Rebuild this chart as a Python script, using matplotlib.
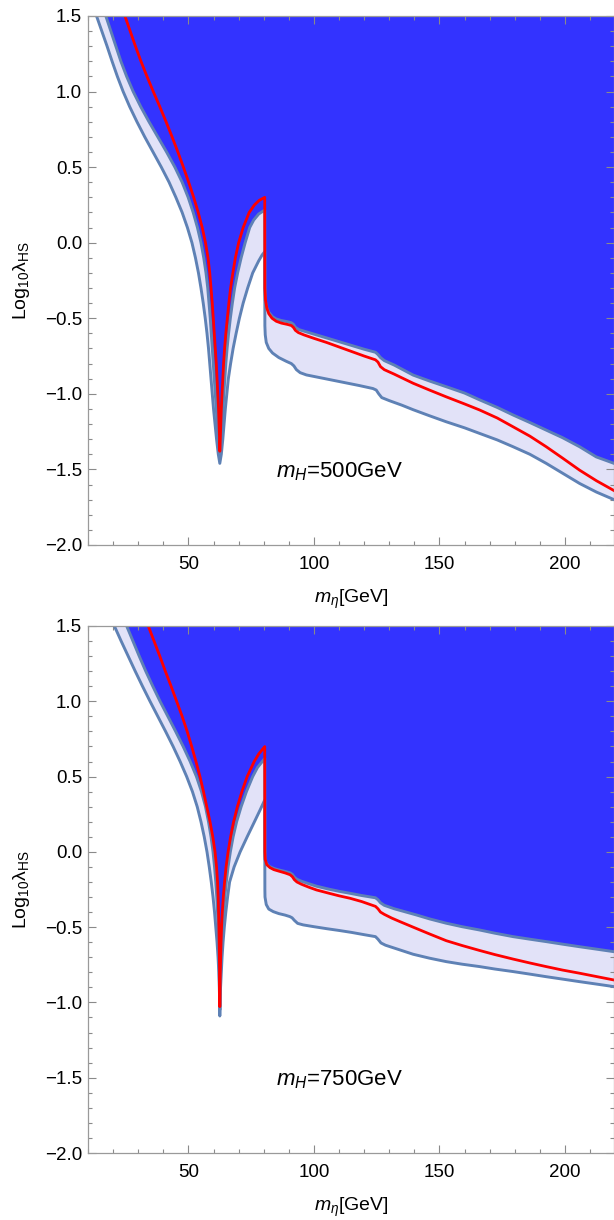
import numpy as np
import matplotlib.pyplot as plt
from matplotlib.ticker import MultipleLocator

plt.rcParams['font.family'] = ['Liberation Sans', 'DejaVu Sans']
plt.rcParams['mathtext.fontset'] = 'custom'
plt.rcParams['mathtext.rm'] = 'Liberation Sans'
plt.rcParams['mathtext.it'] = 'Liberation Sans:italic'

# curves as (m_eta [GeV], log10 lambda_HS)
# ---- m_H = 500 GeV ----
lower500 = [(13.4, 1.5), (15.5, 1.4), (17.6, 1.3), (19.6, 1.2), (21.7, 1.1), (24.0, 1.0), (26.6, 0.9),
            (29.5, 0.8), (32.6, 0.7), (35.9, 0.6), (39.2, 0.5), (42.3, 0.4), (45.0, 0.3), (47.5, 0.2),
            (49.6, 0.1), (51.4, 0.0), (52.8, -0.1), (54.0, -0.2), (55.0, -0.3), (55.9, -0.4), (56.7, -0.5),
            (57.4, -0.6), (58.0, -0.7), (58.5, -0.8), (59.0, -0.9), (59.5, -1.0), (60.0, -1.1),
            (60.6, -1.2), (61.2, -1.3), (61.9, -1.4), (62.5, -1.46),
            (63.1, -1.4), (63.7, -1.3), (64.2, -1.2), (64.7, -1.1), (65.3, -1.0), (65.9, -0.9),
            (66.8, -0.8), (67.8, -0.7), (69.0, -0.6), (70.3, -0.5), (71.8, -0.4), (73.6, -0.3),
            (75.6, -0.2), (78.0, -0.12), (79.4, -0.08), (80.4, -0.06),
            (80.45, -0.55), (80.6, -0.61), (81.0, -0.66), (82.0, -0.70), (83.5, -0.73), (86.0, -0.76),
            (89.0, -0.785), (91.0, -0.80), (92.0, -0.815), (93.0, -0.84), (94.5, -0.86), (97.0, -0.875),
            (100.0, -0.885), (106.0, -0.905), (112.0, -0.925), (118.0, -0.945), (123.5, -0.965),
            (124.8, -0.975), (125.8, -1.0), (127.0, -1.025), (130.0, -1.045), (135.0, -1.075),
            (139.5, -1.105), (146.0, -1.145), (152.7, -1.185), (160.0, -1.225), (166.0, -1.262),
            (173.0, -1.305), (179.3, -1.35), (186.0, -1.40), (192.5, -1.46), (199.0, -1.525),
            (205.8, -1.593), (212.5, -1.65), (219.5, -1.70)]

upper500 = [(17.1, 1.5), (19.1, 1.4), (21.1, 1.3), (23.1, 1.2), (25.4, 1.1), (28.0, 1.0), (31.0, 0.9),
            (34.3, 0.8), (37.8, 0.7), (41.3, 0.6), (44.6, 0.5), (47.5, 0.4), (49.9, 0.3), (51.9, 0.2),
            (53.6, 0.1), (55.0, 0.0), (56.1, -0.1), (57.0, -0.2), (57.7, -0.3), (58.2, -0.4),
            (58.7, -0.5), (59.1, -0.6), (59.5, -0.7), (59.9, -0.8), (60.3, -0.9), (60.7, -1.0),
            (61.1, -1.1), (61.5, -1.2), (61.9, -1.3), (62.5, -1.41),
            (63.0, -1.3), (63.4, -1.2), (63.8, -1.1), (64.1, -1.0), (64.5, -0.9), (64.9, -0.8),
            (65.4, -0.7), (66.0, -0.6), (66.7, -0.5), (67.5, -0.4), (68.4, -0.3), (69.6, -0.2),
            (71.0, -0.1), (72.6, 0.0), (74.4, 0.1), (76.0, 0.15), (78.0, 0.19), (80.4, 0.216),
            (80.45, -0.3), (80.6, -0.38), (81.2, -0.43), (82.0, -0.46), (83.5, -0.49), (85.0, -0.505),
            (87.0, -0.515), (89.5, -0.523), (91.0, -0.53), (91.8, -0.54), (92.6, -0.56), (94.0, -0.575),
            (96.0, -0.585), (100.0, -0.605), (105.0, -0.63), (110.0, -0.655), (115.0, -0.68),
            (120.0, -0.705), (124.5, -0.725), (125.5, -0.74), (126.5, -0.76), (128.0, -0.78),
            (132.0, -0.81), (139.5, -0.876), (146.0, -0.915), (152.7, -0.953), (160.0, -0.995),
            (166.0, -1.04), (173.0, -1.09), (179.3, -1.14), (186.0, -1.19), (192.5, -1.24),
            (199.0, -1.29), (205.8, -1.35), (212.4, -1.417), (219.5, -1.46)]

red500 = [(24.7, 1.5), (26.8, 1.4), (28.9, 1.3), (31.1, 1.2), (33.5, 1.1), (36.0, 1.0), (38.6, 0.9),
          (41.1, 0.8), (43.5, 0.7), (45.8, 0.6), (48.0, 0.5), (50.1, 0.4), (52.1, 0.3), (53.9, 0.2),
          (55.5, 0.1), (56.8, 0.0), (57.8, -0.1), (58.5, -0.2), (59.0, -0.3), (59.5, -0.4),
          (59.9, -0.5), (60.3, -0.6), (60.7, -0.7), (61.1, -0.8), (61.4, -0.9), (61.7, -1.0),
          (62.0, -1.1), (62.2, -1.2), (62.4, -1.3), (62.5, -1.38),
          (62.7, -1.3), (62.9, -1.2), (63.1, -1.1), (63.4, -1.0), (63.7, -0.9), (64.0, -0.8),
          (64.4, -0.7), (64.9, -0.6), (65.5, -0.5), (66.1, -0.4), (66.8, -0.3), (67.7, -0.2),
          (68.7, -0.1), (70.0, 0.0), (71.8, 0.1), (74.2, 0.2), (76.3, 0.25), (78.2, 0.28), (80.4, 0.30),
          (80.45, -0.3), (80.7, -0.38), (81.2, -0.43), (82.0, -0.47), (83.3, -0.50), (85.0, -0.52),
          (87.0, -0.532), (89.5, -0.541), (91.0, -0.548), (91.8, -0.56), (92.6, -0.58), (93.8, -0.595),
          (96.0, -0.61), (100.0, -0.633), (105.0, -0.66), (110.0, -0.69), (115.0, -0.72),
          (120.0, -0.75), (124.5, -0.775), (125.5, -0.79), (126.5, -0.82), (128.0, -0.84),
          (132.0, -0.87), (139.5, -0.93), (146.0, -0.975), (152.7, -1.02), (160.0, -1.067),
          (166.0, -1.107), (173.0, -1.16), (179.3, -1.218), (186.0, -1.28), (192.5, -1.35),
          (199.0, -1.425), (205.8, -1.505), (212.5, -1.575), (219.5, -1.64)]

# ---- m_H = 750 GeV ----
lower750 = [(20.5, 1.5), (23.2, 1.4), (26.0, 1.3), (28.8, 1.2), (31.7, 1.1), (34.7, 1.0), (37.8, 0.9),
            (40.9, 0.8), (43.9, 0.7), (46.7, 0.6), (49.3, 0.5), (51.6, 0.4), (53.5, 0.3), (55.0, 0.2),
            (56.3, 0.1), (57.4, 0.0), (58.3, -0.1), (59.1, -0.2), (59.8, -0.3), (60.4, -0.4),
            (60.9, -0.5), (61.4, -0.6), (61.8, -0.7), (62.1, -0.8), (62.3, -0.9), (62.45, -1.0),
            (62.5, -1.09),
            (62.6, -1.0), (62.8, -0.9), (63.1, -0.8), (63.4, -0.7), (63.8, -0.6), (64.3, -0.5),
            (64.9, -0.4), (65.6, -0.3), (66.4, -0.2), (68.2, -0.1), (70.6, 0.0), (73.4, 0.1),
            (76.3, 0.2), (78.6, 0.28), (80.4, 0.345),
            (80.45, -0.25), (80.5, -0.3), (81.0, -0.35), (82.0, -0.38), (83.8, -0.397), (86.0, -0.41),
            (88.5, -0.42), (90.4, -0.43), (91.3, -0.438), (92.2, -0.455), (93.5, -0.475), (95.7, -0.485),
            (100.0, -0.497), (105.0, -0.51), (110.0, -0.522), (115.0, -0.535), (120.0, -0.55),
            (124.5, -0.563), (125.5, -0.58), (126.7, -0.605), (128.5, -0.62), (134.2, -0.651),
            (139.5, -0.68), (146.0, -0.706), (152.7, -0.729), (159.0, -0.746), (166.0, -0.762),
            (172.0, -0.778), (179.3, -0.795), (186.0, -0.812), (192.5, -0.829), (199.0, -0.845),
            (205.8, -0.862), (212.5, -0.878), (219.5, -0.895)]

upper750 = [(25.4, 1.5), (27.9, 1.4), (30.4, 1.3), (33.0, 1.2), (35.8, 1.1), (38.7, 1.0), (41.8, 0.9),
            (44.9, 0.8), (47.9, 0.7), (50.7, 0.6), (53.2, 0.5), (55.2, 0.4), (56.8, 0.3), (58.0, 0.2),
            (59.0, 0.1), (59.8, 0.0), (60.4, -0.1), (60.9, -0.2), (61.3, -0.3), (61.6, -0.4),
            (61.85, -0.5), (62.05, -0.6), (62.2, -0.7), (62.3, -0.8), (62.4, -0.9), (62.5, -1.05),
            (62.65, -0.9), (62.8, -0.8), (63.0, -0.7), (63.3, -0.6), (63.6, -0.5), (64.0, -0.4),
            (64.5, -0.3), (65.1, -0.2), (65.8, -0.1), (66.7, 0.0), (67.8, 0.1), (69.2, 0.2),
            (71.0, 0.3), (73.1, 0.4), (75.6, 0.5), (77.5, 0.56), (80.4, 0.62),
            (80.45, -0.03), (80.5, -0.05), (81.0, -0.075), (82.0, -0.095), (84.0, -0.11), (86.0, -0.12),
            (88.5, -0.13), (90.5, -0.14), (91.4, -0.15), (92.2, -0.168), (93.2, -0.182), (95.0, -0.195),
            (98.0, -0.212), (101.0, -0.228), (106.0, -0.248), (110.0, -0.262), (114.3, -0.275),
            (119.0, -0.29), (124.5, -0.305), (125.5, -0.318), (126.5, -0.338), (128.0, -0.355),
            (132.0, -0.378), (140.8, -0.419), (146.0, -0.445), (152.7, -0.474), (159.0, -0.497),
            (166.0, -0.519), (172.0, -0.54), (179.3, -0.563), (186.0, -0.58), (192.5, -0.596),
            (199.0, -0.613), (205.8, -0.63), (212.5, -0.646), (219.5, -0.663)]

red750 = [(34.0, 1.5), (36.3, 1.4), (38.6, 1.3), (40.8, 1.2), (43.1, 1.1), (45.3, 1.0), (47.5, 0.9),
          (49.5, 0.8), (51.3, 0.7), (53.0, 0.6), (54.6, 0.5), (56.0, 0.4), (57.3, 0.3), (58.6, 0.2),
          (59.7, 0.1), (60.6, 0.0), (61.2, -0.1), (61.6, -0.2), (61.85, -0.3), (62.0, -0.4),
          (62.15, -0.5), (62.25, -0.6), (62.32, -0.7), (62.4, -0.8), (62.45, -0.9), (62.5, -1.028),
          (62.6, -0.9), (62.7, -0.8), (62.85, -0.7), (63.0, -0.6), (63.2, -0.5), (63.5, -0.4),
          (63.9, -0.3), (64.4, -0.2), (65.0, -0.1), (65.8, 0.0), (66.8, 0.1), (68.0, 0.2),
          (69.5, 0.3), (71.3, 0.4), (73.4, 0.5), (76.2, 0.6), (78.0, 0.65), (80.4, 0.699),
          (80.45, 0.0), (80.6, -0.05), (81.2, -0.085), (82.5, -0.105), (84.0, -0.118), (86.0, -0.128),
          (88.5, -0.14), (90.5, -0.152), (91.4, -0.165), (92.2, -0.185), (93.2, -0.2), (95.0, -0.215),
          (98.0, -0.235), (101.0, -0.253), (106.0, -0.275), (110.0, -0.292), (114.3, -0.308),
          (119.0, -0.33), (124.5, -0.362), (125.5, -0.378), (126.5, -0.40), (128.0, -0.415),
          (131.0, -0.44), (134.2, -0.463), (139.5, -0.50), (146.0, -0.545), (152.7, -0.59),
          (159.0, -0.622), (166.0, -0.655), (172.0, -0.682), (179.3, -0.712), (186.0, -0.738),
          (192.5, -0.762), (199.0, -0.785), (205.8, -0.806), (212.5, -0.828), (219.5, -0.851)]

labels = ['$m_H$=500GeV', '$m_H$=750GeV']
curves = [(lower500, upper500, red500), (lower750, upper750, red750)]

xmin, xmax = 10, 219.5
ymin, ymax = -2.0, 1.5
blue = '#3333FF'
lav = '#E2E2F8'
steel = '#5E81B5'

fig = plt.figure(figsize=(6.14, 12.2), dpi=100)
boxes = [[0.1433, 0.5533, 0.8567, 0.4336], [0.1433, 0.0549, 0.8567, 0.4320]]

for box, label, (lower, upper, red) in zip(boxes, labels, curves):
    ax = fig.add_axes(box)
    lower, upper, red = np.array(lower), np.array(upper), np.array(red)
    # lavender above the lower curve, then blue above the upper curve
    ax.fill(np.r_[lower[:, 0], xmax + 5, xmax + 5], np.r_[lower[:, 1], lower[-1, 1], ymax + 1],
            color=lav, lw=0)
    ax.fill(np.r_[upper[:, 0], xmax + 5, xmax + 5], np.r_[upper[:, 1], upper[-1, 1], ymax + 1],
            color=blue, lw=0)
    ax.plot(lower[:, 0], lower[:, 1], color=steel, lw=2.1, solid_joinstyle='round')
    ax.plot(upper[:, 0], upper[:, 1], color=steel, lw=2.1, solid_joinstyle='round')
    ax.plot(red[:, 0], red[:, 1], color='red', lw=2.0, solid_joinstyle='round')

    ax.text(110.3, -1.55, label, fontsize=16, ha='center', va='baseline')
    ax.set_xlim(xmin, xmax)
    ax.set_ylim(ymin, ymax)
    ax.xaxis.set_major_locator(MultipleLocator(50))
    ax.xaxis.set_minor_locator(MultipleLocator(10))
    ax.yaxis.set_major_locator(MultipleLocator(0.5))
    ax.yaxis.set_minor_locator(MultipleLocator(0.1))
    ax.yaxis.set_major_formatter(lambda v, p: f'{v:.1f}'.replace('-', '\u2212'))
    ax.tick_params(which='both', direction='in', top=True, right=True, color='#8a8a8a',
                   labelsize=13.5, width=0.8)
    ax.tick_params(which='major', length=5.5)
    ax.tick_params(which='minor', length=3)
    ax.tick_params(axis='x', pad=8)
    ax.tick_params(axis='y', pad=4.3)
    for s in ax.spines.values():
        s.set_color('#9a9a9a')
        s.set_linewidth(0.9)
    ax.set_xlabel(r'$m_\eta$[GeV]', fontsize=14)
    ax.xaxis.set_label_coords(0.5, -0.081)
    ax.set_ylabel(r'Log$_{10}$λ$_{\mathrm{HS}}$', fontsize=14)
    ax.yaxis.set_label_coords(-0.106, 0.5)

fig.savefig('out.png', dpi=100)
